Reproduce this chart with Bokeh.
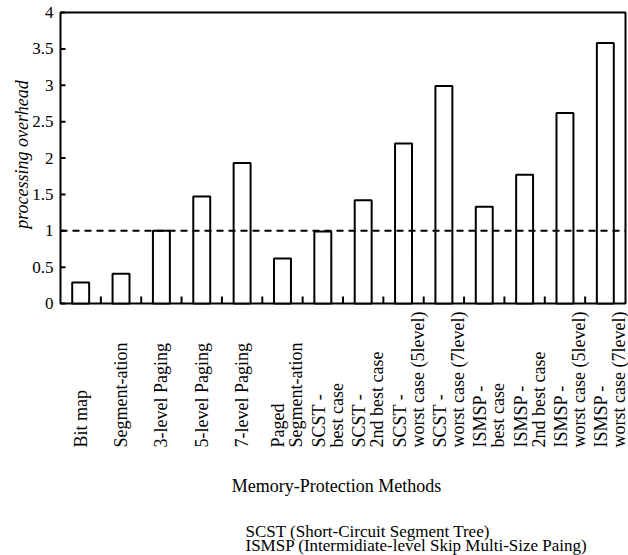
import math
from bokeh.plotting import figure
from bokeh.models import Range1d
from bokeh.core.properties import value
from bokeh.embed import file_html
from bokeh.resources import INLINE

# ---------------- data ----------------
categories = [
    "Bit map",
    "Segment-ation",
    "3-level Paging",
    "5-level Paging",
    "7-level Paging",
    "Paged\nSegment-ation",
    "SCST -\nbest case",
    "SCST -\n2nd best case",
    "SCST -\nworst case (5level)",
    "SCST -\nworst case (7level)",
    "ISMSP -\nbest case",
    "ISMSP -\n2nd best case",
    "ISMSP -\nworst case (5level)",
    "ISMSP -\nworst case (7level)",
]
overhead = [0.29, 0.41, 1.0, 1.47, 1.93, 0.62, 0.99, 1.42, 2.2, 2.99, 1.33, 1.77, 2.62, 3.58]
reference_level = 1.0
y_ticks = [0, 0.5, 1, 1.5, 2, 2.5, 3, 3.5, 4]
y_tick_labels = ["0", "0.5", "1", "1.5", "2", "2.5", "3", "3.5", "4"]
y_title = "processing overhead"
x_title = "Memory-Protection Methods"
notes = [
    "SCST (Short-Circuit Segment Tree)",
    "ISMSP (Intermidiate-level Skip Multi-Size Paing)",
]

# ---------------- layout (pixels on the canvas) ----------------
W, H = 628, 555
FL, FR, FT, FB = 60, 625, 12, 303      # plot box
N = len(categories)
YMAX = 4.0
FONT = value("Liberation Serif")
FS_TICK = "17px"
FS = "18px"
FS_NOTE = "17px"

px_x = (FR - FL) / N          # pixels per x data unit
px_y = (FB - FT) / YMAX       # pixels per y data unit


def xd(px):
    return (px - FL) / px_x


def yd(py):
    return (FB - py) / px_y


p = figure(
    width=W, height=H,
    x_range=Range1d(xd(0), xd(W)), y_range=Range1d(yd(H), yd(0)),
    output_backend="svg", toolbar_location=None,
    min_border=0, min_border_left=0, min_border_right=0,
    min_border_top=0, min_border_bottom=0,
)
p.axis.visible = False
p.xgrid.visible = False
p.ygrid.visible = False
p.outline_line_color = None
p.background_fill_color = "white"
p.border_fill_color = "white"

# plot box
p.quad(left=[0], right=[N], bottom=[0], top=[YMAX],
       fill_color=None, line_color="black", line_width=2)

# bars
centers = [i + 0.5 for i in range(N)]
p.vbar(x=centers, top=overhead, width=0.42, bottom=0,
       fill_color="white", line_color="black", line_width=2)

# dashed reference line at 1
p.segment(x0=[0], y0=[reference_level], x1=[N], y1=[reference_level],
          line_color="black", line_dash="7 5", line_width=2)

# y ticks (inward) and labels
p.segment(x0=[0] * len(y_ticks), y0=y_ticks, x1=[5 / px_x] * len(y_ticks), y1=y_ticks,
          line_color="black", line_width=2)
p.text(x=[xd(FL - 7)] * len(y_ticks), y=y_ticks, text=y_tick_labels,
       text_align="right", text_baseline="middle",
       text_font=FONT, text_font_size=FS_TICK, text_color="black")

# y title
p.text(x=[xd(21)], y=[yd(154)], text=[y_title], angle=math.pi / 2,
       text_align="center", text_baseline="middle",
       text_font=FONT, text_font_size=FS, text_font_style="italic", text_color="black")

# x ticks between bars (inward)
xt = list(range(1, N))
p.segment(x0=xt, y0=[0] * len(xt), x1=xt, y1=[7 / px_y] * len(xt),
          line_color="black", line_width=2)

# category labels (vertical, bottom aligned)
lx, ly, lt = [], [], []
label_bottom = 447
for i, cat in enumerate(categories):
    lines = cat.split("\n")
    for j, ln in enumerate(lines):
        off = 0 if len(lines) == 1 else (-4 + 18 * j)
        lx.append(centers[i] + off / px_x)
        ly.append(yd(label_bottom))
        lt.append(ln)
p.text(x=lx, y=ly, text=lt, angle=math.pi / 2,
       text_align="left", text_baseline="middle",
       text_font=FONT, text_font_size=FS, text_color="black")

# x title
p.text(x=[xd(336)], y=[yd(485)], text=[x_title], text_align="center",
       text_baseline="alphabetic", text_font=FONT, text_font_size=FS, text_color="black")

# notes
p.text(x=[xd(245)] * len(notes), y=[yd(531 + 14 * k) for k in range(len(notes))],
       text=notes, text_align="left", text_baseline="alphabetic",
       text_font=FONT, text_font_size=FS_NOTE, text_color="black")

open("out.html", "w").write(file_html(p, INLINE))
